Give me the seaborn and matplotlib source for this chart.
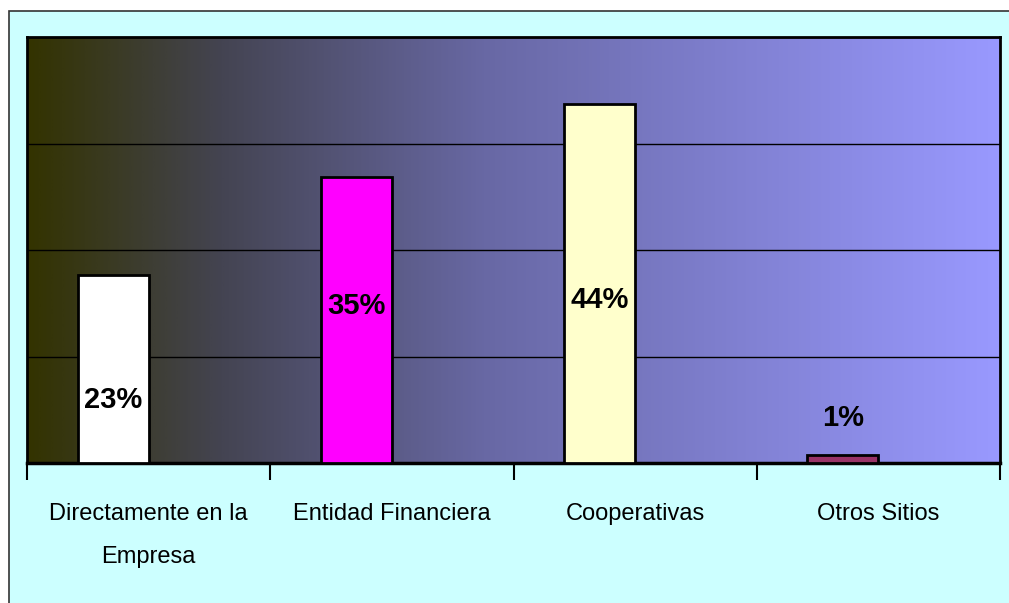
import matplotlib
matplotlib.use("Agg")
import matplotlib.pyplot as plt
import seaborn as sns
import pandas as pd
import numpy as np
from matplotlib.colors import LinearSegmentedColormap
from matplotlib.patches import Rectangle
from matplotlib import font_manager

# ---- data ----
categories = ["Directamente en la\nEmpresa", "Entidad Financiera", "Cooperativas", "Otros Sitios"]
values = [23, 35, 44, 1]
labels = ["23%", "35%", "44%", "1%"]
label_y = [7.7, 19.2, 20.0, 5.5]
bar_colors = ["#FFFFFF", "#FF00FF", "#FFFFCC", "#993366"]
series = ["Serie1", "Serie2"]
y_max = 52.2
grid_step = 13.05
grad_stops = [(0.0, "#333300"), (0.2, "#444452"), (0.47, "#6868A4"), (1.0, "#9999FF")]

sns.set_theme(style="white")
names = {f.name for f in font_manager.fontManager.ttflist}
fam = "Liberation Sans Narrow" if "Liberation Sans Narrow" in names else "Liberation Sans"
narrow = fam == "Liberation Sans Narrow"
plt.rcParams['font.family'] = [fam, 'DejaVu Sans']

df = pd.DataFrame({
    "cat": categories + categories,
    "val": values + [np.nan] * len(values),
    "serie": [series[0]] * len(values) + [series[1]] * len(values),
})

fig = plt.figure(figsize=(10.09, 6.03), dpi=100)
fig.patch.set_facecolor("white")
fig.patches.append(Rectangle((9 / 1009, -0.01), 1.1, (603 - 11) / 603 + 0.01,
                             transform=fig.transFigure, facecolor="#CCFFFF",
                             edgecolor="#333333", linewidth=1.2, zorder=-5))

ax = fig.add_axes([27 / 1009, 1 - 463 / 603, (1000 - 27) / 1009, (463 - 37) / 603])

# gradient background
cmap = LinearSegmentedColormap.from_list("grad", grad_stops)
grad = np.linspace(0, 1, 512).reshape(1, -1)
ax.imshow(grad, extent=[0, 1, 0, 1], transform=ax.transAxes, aspect="auto",
          cmap=cmap, zorder=0, interpolation="bilinear")

sns.barplot(data=df, x="cat", y="val", hue="serie", hue_order=series, order=categories,
            width=0.584, dodge=True, ax=ax, legend=False, edgecolor="black",
            linewidth=2, saturation=1, zorder=3, errorbar=None)

bars = [p for p in ax.patches if np.isfinite(p.get_height())]
for p, c, lab, ly in zip(bars, bar_colors, labels, label_y):
    p.set_facecolor(c)
    ax.text(p.get_x() + p.get_width() / 2, ly, lab, ha="center", va="center",
            fontsize=24 if narrow else 21, fontweight="bold", color="black", zorder=5)

ax.set_xlim(-0.5, len(categories) - 0.5)
ax.set_ylim(0, y_max)
ax.set_yticks(np.arange(0, y_max + 0.01, grid_step))
ax.set_yticklabels([])
ax.tick_params(axis="y", length=0)
ax.yaxis.grid(True, color="black", linewidth=1)
ax.set_axisbelow(True)

ax.set_xticks(np.arange(-0.5, len(categories)), minor=True)
ax.tick_params(axis="x", which="minor", length=12, width=1.5, color="black", direction="out", bottom=True)
ax.tick_params(axis="x", which="major", length=0, pad=29, labelsize=20 if narrow else 17,
               labelcolor="black")
for t in ax.get_xticklabels():
    t.set_linespacing(1.45 if narrow else 2.2)
    t.set_multialignment("center")
ax.set_xlabel("")
ax.set_ylabel("")

for s in ["top", "left", "right"]:
    ax.spines[s].set_color("black")
    ax.spines[s].set_linewidth(2)
    ax.spines[s].set_visible(True)
ax.spines["bottom"].set_color("black")
ax.spines["bottom"].set_linewidth(2.5)

fig.savefig("out.png", dpi=100, facecolor=fig.get_facecolor())
